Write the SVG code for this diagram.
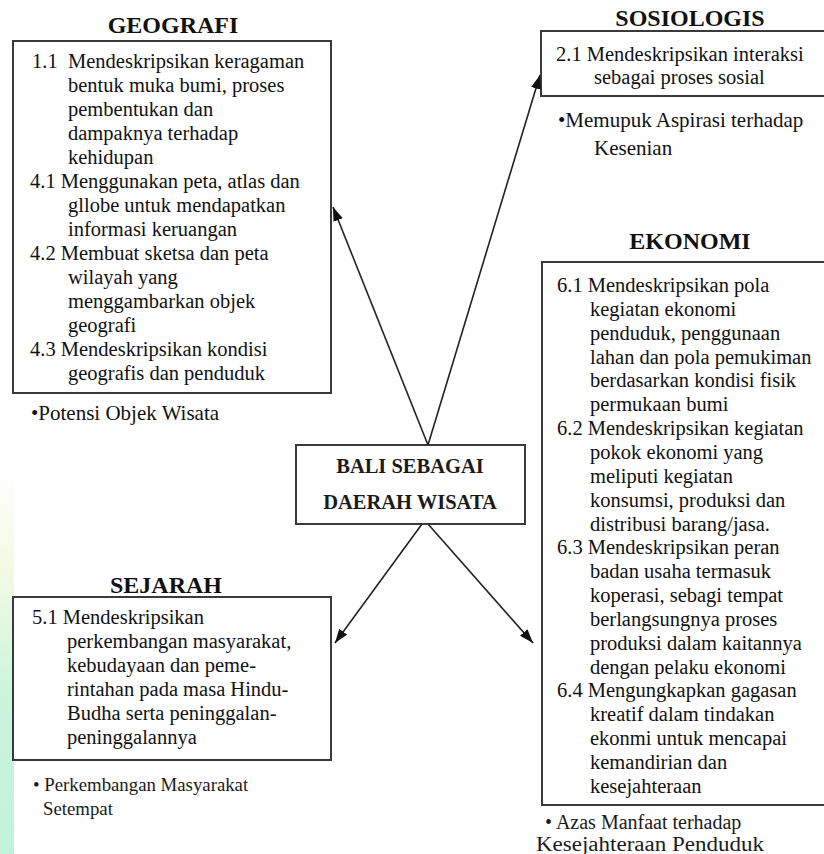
<svg xmlns="http://www.w3.org/2000/svg" width="824" height="854" viewBox="0 0 824 854">
<defs>
<linearGradient id="edge" x1="0" y1="0" x2="0" y2="1">
<stop offset="0" stop-color="#ffffff"/>
<stop offset="0.25" stop-color="#f4fae4"/>
<stop offset="0.6" stop-color="#caf4dc"/>
<stop offset="1" stop-color="#c2f2dc"/>
</linearGradient>
<marker id="ah" viewBox="0 0 14 10" refX="14" refY="5" markerWidth="14" markerHeight="10" markerUnits="userSpaceOnUse" orient="auto">
<path d="M0,0 L14,5 L0,10 z" fill="#111"/>
</marker>
<style>
.box{fill:#fff;stroke:#3a3a3a;stroke-width:2}
.t{font-family:"Liberation Serif","Times New Roman",serif;font-size:20.5px;fill:#111}
.b{font-family:"Liberation Serif","Times New Roman",serif;font-size:21px;fill:#111}
.h{font-family:"Liberation Serif","Times New Roman",serif;font-size:24px;font-weight:bold;fill:#111}
.c{font-family:"Liberation Serif","Times New Roman",serif;font-size:20.5px;font-weight:bold;fill:#1a1a1a}
.s{font-family:"Liberation Serif","Times New Roman",serif;font-size:18.8px;fill:#1a1a1a}
.e{font-family:"Liberation Serif","Times New Roman",serif;font-size:20px;fill:#1a1a1a}
.ln{stroke:#222;stroke-width:1.6;fill:none}
</style>
</defs>
<rect width="824" height="854" fill="#fff"/>
<rect x="0" y="470" width="14" height="384" fill="url(#edge)"/>

<g id="geografi">
<text class="h" x="173" y="33" text-anchor="middle">GEOGRAFI</text>
<rect class="box" x="13" y="41" width="318" height="352"/>
<text class="t" x="32" y="68">1.1</text>
<text class="t" x="68" y="68">Mendeskripsikan keragaman</text>
<text class="t" x="68" y="92">bentuk muka bumi, proses</text>
<text class="t" x="68" y="116">pembentukan dan</text>
<text class="t" x="68" y="140">dampaknya terhadap</text>
<text class="t" x="68" y="164">kehidupan</text>
<text class="t" x="30" y="188">4.1 Menggunakan peta, atlas dan</text>
<text class="t" x="68" y="212">gllobe untuk mendapatkan</text>
<text class="t" x="68" y="236">informasi keruangan</text>
<text class="t" x="30" y="260">4.2 Membuat sketsa dan peta</text>
<text class="t" x="68" y="284">wilayah yang</text>
<text class="t" x="68" y="308">menggambarkan objek</text>
<text class="t" x="68" y="332">geografi</text>
<text class="t" x="30" y="356">4.3 Mendeskripsikan kondisi</text>
<text class="t" x="68" y="380">geografis dan penduduk</text>
<text class="b" x="31" y="420">•Potensi Objek Wisata</text>
</g>

<g id="sosiologis">
<text class="h" x="690" y="26" text-anchor="middle">SOSIOLOGIS</text>
<rect class="box" x="541" y="31" width="300" height="65"/>
<text class="t" x="556" y="61">2.1 Mendeskripsikan interaksi</text>
<text class="t" x="594" y="84">sebagai proses sosial</text>
<text class="b" x="558" y="127">•Memupuk Aspirasi terhadap</text>
<text class="b" x="594" y="155">Kesenian</text>
</g>

<g id="ekonomi">
<text class="h" x="690" y="249" text-anchor="middle">EKONOMI</text>
<rect class="box" x="542" y="262" width="300" height="543"/>
<text class="t" x="557" y="292">6.1 Mendeskripsikan pola</text>
<text class="t" x="590" y="316">kegiatan ekonomi</text>
<text class="t" x="590" y="340">penduduk, penggunaan</text>
<text class="t" x="590" y="364">lahan dan pola pemukiman</text>
<text class="t" x="590" y="387">berdasarkan kondisi fisik</text>
<text class="t" x="590" y="411">permukaan bumi</text>
<text class="t" x="557" y="435">6.2 Mendeskripsikan kegiatan</text>
<text class="t" x="590" y="459">pokok ekonomi yang</text>
<text class="t" x="590" y="483">meliputi kegiatan</text>
<text class="t" x="590" y="507">konsumsi, produksi dan</text>
<text class="t" x="590" y="531">distribusi barang/jasa.</text>
<text class="t" x="557" y="554">6.3 Mendeskripsikan peran</text>
<text class="t" x="590" y="578">badan usaha termasuk</text>
<text class="t" x="590" y="602">koperasi, sebagi tempat</text>
<text class="t" x="590" y="626">berlangsungnya proses</text>
<text class="t" x="590" y="650">produksi dalam kaitannya</text>
<text class="t" x="590" y="674">dengan pelaku ekonomi</text>
<text class="t" x="557" y="697">6.4 Mengungkapkan gagasan</text>
<text class="t" x="590" y="721">kreatif dalam tindakan</text>
<text class="t" x="590" y="745">ekonmi untuk mencapai</text>
<text class="t" x="590" y="769">kemandirian dan</text>
<text class="t" x="590" y="793">kesejahteraan</text>
<text class="e" x="545" y="829">• Azas Manfaat terhadap</text>
<text class="e" x="536" y="851" textLength="228" lengthAdjust="spacingAndGlyphs">Kesejahteraan Penduduk</text>
</g>

<g id="sejarah">
<text class="h" x="166" y="593" text-anchor="middle">SEJARAH</text>
<rect class="box" x="13" y="597" width="318" height="163"/>
<text class="t" x="32" y="624">5.1 Mendeskripsikan</text>
<text class="t" x="67" y="648">perkembangan masyarakat,</text>
<text class="t" x="67" y="672">kebudayaan dan peme-</text>
<text class="t" x="67" y="696">rintahan pada masa Hindu-</text>
<text class="t" x="67" y="720">Budha serta peninggalan-</text>
<text class="t" x="67" y="744">peninggalannya</text>
<text class="s" x="33" y="791">• Perkembangan Masyarakat</text>
<text class="s" x="43" y="815">Setempat</text>
</g>

<g id="bali">
<rect class="box" x="296" y="445" width="229" height="79"/>
<text class="c" x="410" y="473" text-anchor="middle">BALI SEBAGAI</text>
<text class="c" x="410" y="509" text-anchor="middle">DAERAH WISATA</text>
</g>

<g id="connectors">
<line class="ln" x1="428" y1="445" x2="333" y2="207" marker-end="url(#ah)"/>
<line class="ln" x1="428" y1="445" x2="540" y2="75" marker-end="url(#ah)"/>
<line class="ln" x1="422" y1="524" x2="335" y2="643" marker-end="url(#ah)"/>
<line class="ln" x1="428" y1="524" x2="533" y2="643" marker-end="url(#ah)"/>
</g>
</svg>
